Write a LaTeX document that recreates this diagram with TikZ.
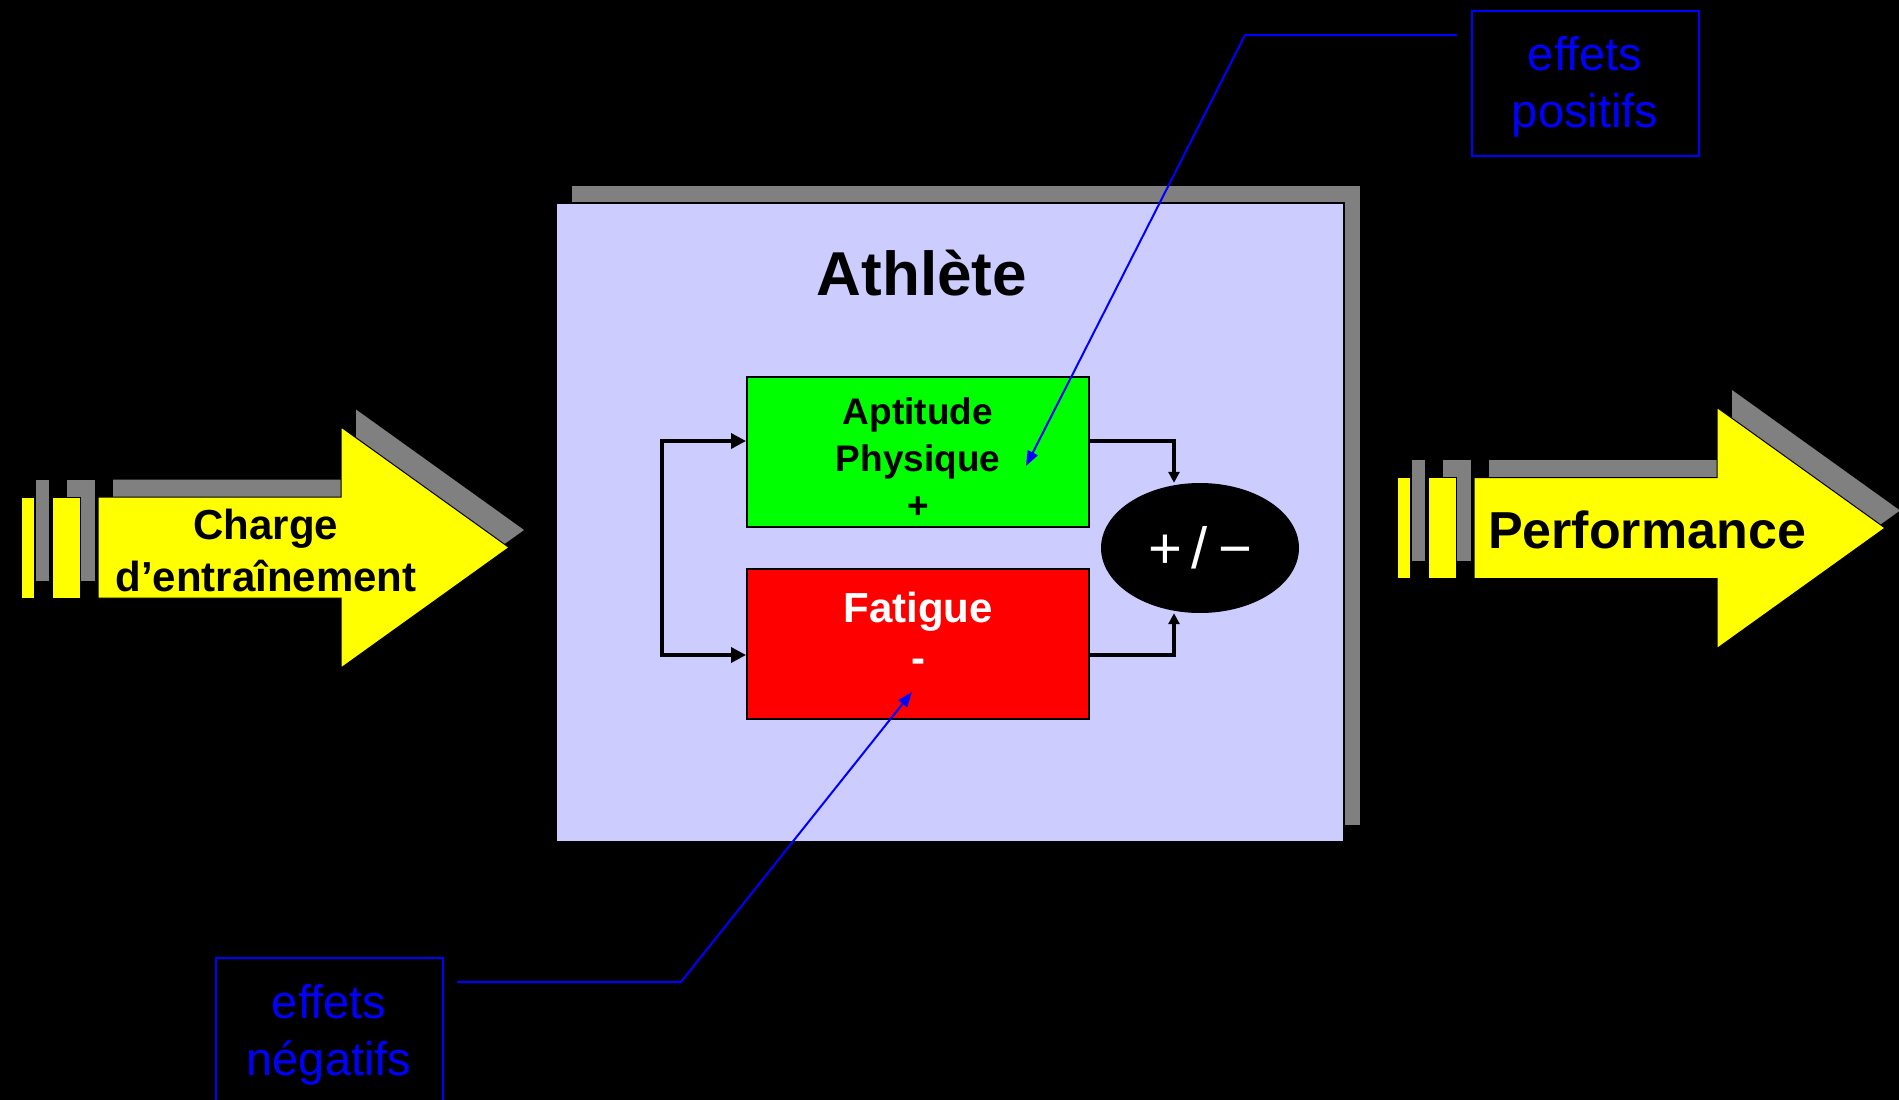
\documentclass[tikz,border=0pt]{standalone}
\usepackage{fontspec}
\setmainfont{Liberation Sans}
\usetikzlibrary{arrows.meta,shapes.geometric}
\definecolor{ayellow}{HTML}{FFFF00}
\definecolor{agray}{HTML}{808080}
\definecolor{alav}{HTML}{CCCCFF}
\definecolor{agreen}{HTML}{00FF00}
\definecolor{ared}{HTML}{FF0000}
\definecolor{ablue}{HTML}{0000FF}
\tikzset{
  yshape/.style={fill=ayellow, draw=black, line width=1pt},
  gshape/.style={fill=agray},
  blockarrow/.pic={
    \begin{scope}[shift={(15,-17.5)}]
      \fill[gshape] (0,-50.5) rectangle (13,50.5);
      \fill[gshape] (31,-50.5) rectangle (59,50.5);
      \fill[gshape] (77,-50.5) -- (320,-50.5) -- (320,-120.5) -- (488,0) -- (320,120.5) -- (320,50.5) -- (77,50.5) -- cycle;
    \end{scope}
    \draw[yshape] (0,-50.5) rectangle (13,50.5);
    \draw[yshape] (31,-50.5) rectangle (59,50.5);
    \draw[yshape] (77,-50.5) -- (320,-50.5) -- (320,-120.5) -- (488,0) -- (320,120.5) -- (320,50.5) -- (77,50.5) -- cycle;
  },
  innerbox/.style={draw=black, line width=2pt, minimum width=342pt, minimum height=150pt, inner sep=0pt},
  conn/.style={draw=black, line width=3.5pt},
  bigtip/.style={arrows={-{Triangle[length=15pt,width=15pt]}}},
  smalltip/.style={arrows={-{Triangle[length=11pt,width=11pt]}}},
  bluebox/.style={draw=ablue, line width=2pt, minimum width=227pt, minimum height=145pt, inner sep=0pt},
  bluetxt/.style={text=ablue, align=center, anchor=base, inner sep=0pt, font=\fontsize{47}{57}\selectfont},
  bcon/.style={draw=ablue, line width=2pt, arrows={-{Triangle[length=15pt,width=11pt]}}},
}
\begin{document}
\begin{tikzpicture}[x=1pt,y=-1pt]
\useasboundingbox (0,0) rectangle (1899,1100);
\fill[black] (0,0) rectangle (1899,1100);
\clip (0,0) rectangle (1899,1100);

% block arrows
\pic at (21,547.5) {blockarrow};
\pic at (1397,528) {blockarrow};
\node[anchor=base, align=center, inner sep=0pt, font=\bfseries\fontsize{42}{52}\selectfont] (charge) at (266,591) {Charge\\d’entraînement};
\node[anchor=base, inner sep=0pt, font=\bfseries\fontsize{52}{60}\selectfont] (perf) at (1647,548) {Performance};

% athlete box
\fill[agray] (572,186) rectangle (1360,825);
\node[draw=black, line width=1.5pt, fill=alav, minimum width=788pt, minimum height=639pt, inner sep=0pt] (ath) at (950,522.5) {};
\node[anchor=base, inner sep=0pt, font=\bfseries\fontsize{62}{70}\selectfont] (athtitle) at (922,295) {Athlète};

% inner boxes
\node[innerbox, fill=agreen] (apt) at (918,452) {};
\node[innerbox, fill=ared] (fat) at (918,644) {};
\node[anchor=base, align=center, inner sep=0pt, font=\bfseries\fontsize{37}{47}\selectfont] (apttxt) at (918,518) {Aptitude\\Physique\\+};
\node[anchor=base, align=center, inner sep=0pt, text=white, font=\bfseries\fontsize{42}{50}\selectfont] (fattxt) at (918,672) {Fatigue\\-};
\node[ellipse, fill=black, text=white, minimum width=198pt, minimum height=130pt, inner sep=0pt, font=\fontsize{58}{60}\selectfont] (pm) at (1200,548) {\spaceskip=10pt + / −};

% connectors
\coordinate (L1) at (662,441);
\coordinate (L2) at (662,655);
\coordinate (R1) at (1174,441);
\coordinate (R2) at (1174,655);
\draw[conn, arrows={{Triangle[length=15pt,width=15pt]}-{Triangle[length=15pt,width=15pt]}}] (L1 -| apt.west) -- (L1) -- (L2) -- (L2 -| fat.west);
\draw[conn, smalltip] (R1 -| apt.east) -- (R1) -- (R1 |- pm.north);
\draw[conn, smalltip] (R2 -| fat.east) -- (R2) -- (R2 |- pm.south);

% callouts
\node[bluebox] (bpos) at (1585.5,83.5) {};
\node[bluetxt] (tpos) at (1585,127) {effets\\positifs};
\node[bluebox] (bneg) at (329,1030.5) {};
\node[bluetxt] (tneg) at (329,1075) {effets\\négatifs};
\coordinate (cP1) at (1457,35);
\coordinate (cP2) at (1245,35);
\coordinate (tipP) at (1026,466);
\coordinate (cN1) at (457,982);
\coordinate (cN2) at (681,982);
\coordinate (tipN) at (912,692);
\draw[bcon] (cP1) -- (cP2) -- (tipP);
\draw[bcon] (cN1) -- (cN2) -- (tipN);
\end{tikzpicture}
\end{document}
